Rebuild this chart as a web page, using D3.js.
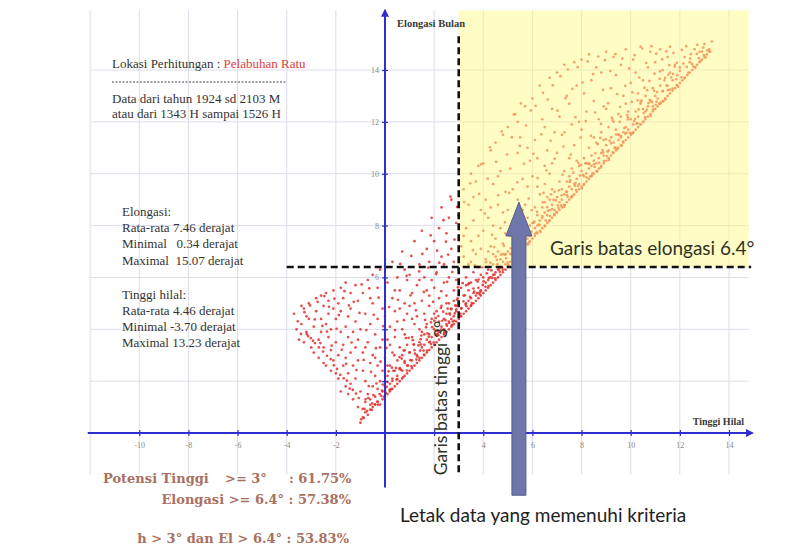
<!DOCTYPE html>
<html lang="id">
<head>
<meta charset="UTF-8">
<title>Elongasi Bulan vs Tinggi Hilal</title>
<script src="https://d3js.org/d3.v7.min.js"></script>
<style>
  body { margin: 0; background: #fff; }
  svg { display: block; }
  .pre { white-space: pre; }
</style>
</head>
<body>
<div id="chart"></div>
<script>
// tick marks and labels
const xTickMarks = [-10, -8, -6, -4, -2, 2, 4, 6, 8, 10, 12, 14];
const xTickLabels = [-10, -8, -6, -4, -2, 4, 6, 8, 10, 12, 14];
const yTickMarks = [2, 4, 6, 8, 10, 12, 14];
const yTickLabels = [6, 8, 10, 12, 14];
const gridH = [-12, -10, -8, -6, -4, -2, 0, 2, 4, 6, 8, 10, 12, 14];
const gridEl = [2, 4, 6, 8, 10, 12, 14];

// kriteria
const batasTinggi = 3;
const batasElongasi = 6.4;

// teks keterangan
const infoLokasi = ["Lokasi Perhitungan : ", "Pelabuhan Ratu"];
const infoData = ["Data dari tahun 1924 sd 2103 M", "atau dari 1343 H sampai 1526 H"];
const infoElongasi = ["Elongasi:", "Rata-rata 7.46 derajat", "Minimal   0.34 derajat", "Maximal  15.07 derajat"];
const infoTinggi = ["Tinggi hilal:", "Rata-rata 4.46 derajat", "Minimal -3.70 derajat", "Maximal 13.23 derajat"];

// [tinggi hilal, elongasi] (derajat): sebaran umum
const titikSebaran = [
  [-3.7,4.6],[-3.5,3.6],[-3.4,4.2],[-3.3,3.5],[-3.3,4.8],[-3.2,3.9],[-3.1,4.4],[-3.1,5.0],[-3.0,3.3],[-3.6,4.0],[-3.4,4.9],[-3.2,4.5],
  [-2.9,3.1],[-2.9,4.1],[-2.8,4.7],[-2.8,5.2],[-2.7,3.6],[-2.7,2.9],[-2.6,4.4],[-2.6,5.3],[-2.6,3.9],[-2.5,2.7],[-2.5,4.9],[-2.5,3.3],[-2.4,5.4],[-2.4,4.2],[-2.4,2.6],[-2.3,3.7],[-2.3,4.6],[-2.3,5.1],[-2.2,2.4],[-2.2,3.2],[-2.2,4.0],[-2.1,4.8],[-2.1,2.8],[-2.1,5.5],[-2.0,3.5],
  [-2.0,2.3],[-2.0,4.4],[-1.9,5.0],[-1.9,3.0],[-1.9,2.1],[-1.8,3.9],[-1.8,5.6],[-1.8,1.6],[-1.8,4.7],[-1.7,2.6],[-1.7,3.4],[-1.7,5.2],[-1.6,1.8],[-1.6,4.1],[-1.6,2.9],[-1.6,5.8],[-1.5,3.7],[-1.5,1.5],[-1.5,4.5],[-1.5,2.3],[-1.4,5.4],[-1.4,3.1],[-1.4,1.9],[-1.4,4.8],[-1.3,2.6],[-1.3,3.9],[-1.3,1.3],[-1.2,5.7],[-1.2,2.1],[-1.2,4.3],[-1.2,3.3],[-1.1,1.0],[-1.1,2.8],[-1.1,5.1],[-1.1,3.6],
  [-1.0,0.4],[-1.0,1.6],[-1.0,4.0],[-0.9,0.6],[-0.9,2.4],[-0.9,5.4],[-0.9,3.1],[-0.8,0.8],[-0.8,1.2],[-0.8,4.6],[-0.8,2.0],[-0.7,0.7],[-0.7,3.5],[-0.7,5.9],[-0.7,1.5],[-0.6,0.9],[-0.6,2.7],[-0.6,4.2],[-0.6,1.3],[-0.5,1.0],[-0.5,6.1],[-0.5,3.0],[-0.5,1.8],[-0.5,5.0],[-0.4,1.1],[-0.4,2.2],[-0.4,3.8],[-0.4,1.4],[-0.3,1.2],[-0.3,4.4],[-0.3,2.6],[-0.3,5.6],[-0.3,1.7],[-0.2,1.1],[-0.2,3.3],[-0.2,2.0],[-0.2,6.3],[-0.1,1.3],[-0.1,4.8],[-0.1,2.4],[-0.1,1.6],[-0.1,3.6],[-0.6,5.2],[-0.4,2.9],[-0.8,3.3],
  [0.0,1.4],[0.0,2.9],[0.0,4.5],[0.0,1.8],[0.1,1.5],[0.1,3.6],[0.1,5.8],[0.1,2.2],[0.2,1.6],[0.2,2.6],[0.2,4.1],[0.2,1.9],[0.3,1.7],[0.3,5.2],[0.3,3.1],[0.3,6.6],[0.3,2.1],[0.4,1.8],[0.4,2.4],[0.4,4.7],[0.4,3.7],[0.5,1.9],[0.5,2.8],[0.5,6.0],[0.5,2.2],[0.5,4.3],[0.6,2.0],[0.6,3.3],[0.6,5.5],[0.6,2.5],[0.7,2.1],[0.7,2.4],[0.7,4.0],[0.7,7.0],[0.7,3.0],[0.8,2.2],[0.8,3.8],[0.8,5.0],[0.8,2.7],[0.8,6.3],[0.9,2.3],[0.9,2.6],[0.9,4.6],[0.9,3.4],[0.9,5.9],[0.2,3.4],[0.4,5.5],[0.6,4.8],[0.8,3.2],[0.1,2.6],
  [1.0,2.4],[1.0,3.1],[1.0,4.9],[1.0,6.1],[1.1,2.5],[1.1,3.7],[1.1,5.4],[1.1,2.8],[1.2,2.6],[1.2,4.2],[1.2,7.4],[1.2,3.2],[1.3,2.7],[1.3,3.0],[1.3,5.7],[1.3,4.5],[1.4,2.8],[1.4,3.5],[1.4,6.5],[1.4,2.9],[1.4,4.0],[1.5,2.9],[1.5,3.3],[1.5,5.1],[1.5,7.8],[1.5,3.9],[1.6,3.0],[1.6,4.6],[1.6,3.4],[1.6,6.0],[1.7,3.1],[1.7,3.6],[1.7,5.5],[1.7,4.2],[1.7,7.1],[1.8,3.2],[1.8,3.8],[1.8,4.9],[1.8,3.5],[1.8,6.6],[1.9,3.3],[1.9,4.4],[1.9,5.9],[1.9,3.7],[1.9,8.3],[1.2,5.0],[1.4,5.9],[1.6,3.8],[1.8,5.3],[1.1,4.4],
  [2.0,3.4],[2.0,4.0],[2.0,5.6],[2.0,7.4],[2.1,3.5],[2.1,3.8],[2.1,4.7],[2.1,6.2],[2.2,3.6],[2.2,4.3],[2.2,5.2],[2.2,3.9],[2.3,3.7],[2.3,4.1],[2.3,6.8],[2.3,4.9],[2.3,8.7],[2.4,3.8],[2.4,4.4],[2.4,5.8],[2.4,4.0],[2.5,3.9],[2.5,4.6],[2.5,7.7],[2.5,5.3],[2.5,4.2],[2.6,4.0],[2.6,4.3],[2.6,6.0],[2.6,5.0],[2.7,4.1],[2.7,4.8],[2.7,7.1],[2.7,4.4],[2.7,9.0],[2.8,4.2],[2.8,4.5],[2.8,5.5],[2.8,6.6],[2.9,4.3],[2.9,4.7],[2.9,5.9],[2.9,8.1],[2.9,4.9],[2.4,6.5],[2.6,8.3],[2.2,7.9],[2.8,5.1],[2.0,4.6],[2.5,5.0],
  [3.0,4.4],[3.0,5.0],[3.0,6.3],[3.0,8.4],[3.1,4.5],[3.1,4.8],[3.1,7.2],[3.1,5.6],[3.2,4.6],[3.2,5.3],[3.2,9.4],[3.2,6.8],[3.3,4.7],[3.3,5.0],[3.3,6.0],[3.3,7.9],[3.4,4.8],[3.4,5.5],[3.4,8.8],[3.4,5.1],[3.4,6.5],[3.5,4.9],[3.5,5.2],[3.5,7.4],[3.5,10.0],[3.5,5.8],[3.6,5.0],[3.6,6.2],[3.6,5.4],[3.6,8.2],[3.7,5.1],[3.7,5.3],[3.7,6.9],[3.7,9.7],[3.7,5.9],[3.8,5.2],[3.8,5.6],[3.8,7.6],[3.8,6.4],[3.8,5.4],[3.9,5.3],[3.9,6.1],[3.9,8.6],[3.9,5.5],[3.9,7.1],[3.3,5.7],[3.5,6.6],[3.6,9.1],[3.8,10.3],[3.2,7.6],
  [4.0,5.4],[4.0,6.0],[4.0,7.8],[4.0,10.4],[4.1,5.5],[4.1,5.8],[4.1,6.7],[4.1,9.0],[4.2,5.6],[4.2,6.3],[4.2,8.3],[4.2,5.9],[4.3,5.7],[4.3,6.0],[4.3,7.2],[4.3,10.9],[4.4,5.8],[4.4,6.5],[4.4,9.6],[4.4,6.1],[4.4,8.0],[4.5,5.9],[4.5,6.2],[4.5,7.5],[4.5,11.2],[4.5,6.8],[4.6,6.0],[4.6,7.0],[4.6,6.3],[4.6,8.8],[4.7,6.1],[4.7,6.4],[4.7,7.9],[4.7,10.1],[4.7,6.7],[4.8,6.2],[4.8,6.6],[4.8,8.5],[4.8,7.3],[4.8,11.5],[4.9,6.3],[4.9,6.9],[4.9,9.3],[4.9,6.5],[4.9,7.7],[4.2,7.0],[4.4,6.9],[4.6,9.9],[4.8,6.9],[4.3,8.7],
  [5.0,6.5],[5.0,7.0],[5.0,8.6],[5.0,11.8],[5.1,6.6],[5.1,6.9],[5.1,7.6],[5.1,10.2],[5.2,6.7],[5.2,7.3],[5.2,9.4],[5.2,7.0],[5.3,6.8],[5.3,7.1],[5.3,8.1],[5.3,12.3],[5.4,6.9],[5.4,7.6],[5.4,10.8],[5.4,7.2],[5.4,9.0],[5.5,7.0],[5.5,7.4],[5.5,8.4],[5.5,11.4],[5.5,7.8],[5.6,7.1],[5.6,8.0],[5.6,7.4],[5.6,9.8],[5.7,7.2],[5.7,7.5],[5.7,8.8],[5.7,12.6],[5.7,7.9],[5.8,7.3],[5.8,7.7],[5.8,9.5],[5.8,8.3],[5.8,11.0],[5.9,7.4],[5.9,8.0],[5.9,10.5],[5.9,7.6],[5.2,8.2],[5.4,12.0],[5.6,8.6],[5.8,7.5],
  [6.0,7.5],[6.0,8.1],[6.0,9.9],[6.0,12.9],[6.1,7.6],[6.1,7.9],[6.1,8.7],[6.1,11.3],[6.2,7.7],[6.2,8.4],[6.2,10.6],[6.2,8.0],[6.3,7.8],[6.3,8.2],[6.3,9.2],[6.3,13.4],[6.4,7.9],[6.4,8.7],[6.4,12.1],[6.4,8.3],[6.5,8.0],[6.5,8.5],[6.5,9.6],[6.5,11.8],[6.5,8.9],[6.6,8.1],[6.6,9.1],[6.6,8.4],[6.6,10.9],[6.7,8.2],[6.7,8.6],[6.7,10.0],[6.7,13.7],[6.7,9.0],[6.8,8.3],[6.8,8.8],[6.8,10.4],[6.8,9.4],[6.8,12.5],[6.9,8.4],[6.9,9.3],[6.9,11.6],[6.9,8.6],[6.2,9.5],[6.5,10.3],
  [7.0,8.5],[7.0,9.1],[7.0,10.8],[7.0,13.9],[7.1,8.6],[7.1,8.9],[7.1,9.7],[7.1,12.2],[7.2,8.7],[7.2,9.4],[7.2,11.5],[7.2,9.0],[7.3,8.8],[7.3,9.2],[7.3,10.1],[7.3,14.2],[7.4,8.9],[7.4,9.7],[7.4,13.0],[7.4,9.3],[7.5,9.0],[7.5,9.5],[7.5,10.6],[7.5,12.7],[7.5,9.9],[7.6,9.1],[7.6,10.2],[7.6,9.4],[7.6,11.9],[7.7,9.2],[7.7,9.6],[7.7,11.1],[7.7,14.3],[7.8,9.3],[7.8,9.8],[7.8,10.5],[7.8,13.4],[7.9,9.4],[7.9,10.3],[7.9,12.0],[7.9,9.6],[7.3,11.6],
  [8.0,9.5],[8.0,10.1],[8.0,11.7],[8.0,14.4],[8.1,9.6],[8.1,9.9],[8.1,10.6],[8.1,13.1],[8.2,9.7],[8.2,10.4],[8.2,12.4],[8.3,9.8],[8.3,10.2],[8.3,11.0],[8.3,14.6],[8.4,9.9],[8.4,10.7],[8.4,13.6],[8.4,10.3],[8.5,10.0],[8.5,10.5],[8.5,11.4],[8.5,12.8],[8.6,10.1],[8.6,11.2],[8.6,10.4],[8.6,14.1],[8.7,10.2],[8.7,10.6],[8.7,12.1],[8.8,10.3],[8.8,10.8],[8.8,11.6],[8.8,13.9],[8.9,10.4],[8.9,11.3],[8.9,12.6],[8.9,10.7],
  [9.0,10.5],[9.0,11.1],[9.0,12.5],[9.0,14.7],[9.1,10.6],[9.1,10.9],[9.1,11.8],[9.2,10.7],[9.2,11.4],[9.2,13.3],[9.3,10.8],[9.3,11.2],[9.3,12.0],[9.3,14.5],[9.4,10.9],[9.4,11.7],[9.4,13.8],[9.5,11.0],[9.5,11.5],[9.5,12.3],[9.5,11.3],[9.6,11.1],[9.6,12.2],[9.6,11.4],[9.6,14.2],[9.7,11.2],[9.7,11.6],[9.7,13.0],[9.8,11.3],[9.8,11.8],[9.8,12.7],[9.8,14.8],[9.9,11.4],[9.9,12.4],[9.9,11.7],
  [10.0,11.5],[10.0,12.1],[10.0,13.5],[10.1,11.6],[10.1,11.9],[10.1,14.4],[10.2,11.7],[10.2,12.4],[10.3,11.8],[10.3,12.2],[10.3,13.1],[10.4,11.9],[10.4,12.7],[10.4,14.9],[10.5,12.0],[10.5,12.5],[10.5,13.6],[10.6,12.1],[10.6,13.0],[10.6,12.4],[10.7,12.2],[10.7,12.6],[10.7,14.1],[10.8,12.3],[10.8,12.8],[10.8,14.7],[10.9,12.4],[10.9,13.3],[10.9,12.6],[10.2,13.9],
  [11.0,12.5],[11.0,13.0],[11.0,14.3],[11.1,12.6],[11.1,12.9],[11.2,12.7],[11.2,13.4],[11.2,14.8],[11.3,12.8],[11.3,13.2],[11.4,12.9],[11.4,13.7],[11.5,13.0],[11.5,13.4],[11.5,14.5],[11.6,13.1],[11.6,13.9],[11.7,13.2],[11.7,13.6],[11.8,13.3],[11.8,14.2],[11.9,13.4],[11.9,13.8],[11.3,14.0],[11.6,14.9],
  [12.0,13.5],[12.0,14.1],[12.1,13.6],[12.2,13.7],[12.2,14.5],[12.3,13.8],[12.4,13.9],[12.4,14.3],[12.5,14.0],[12.6,14.1],[12.6,14.8],[12.7,14.2],[12.8,14.3],[12.8,14.7],[12.9,14.4],[13.0,14.5],[13.0,15.0],[13.1,14.6],[13.2,14.8],[13.3,15.1]
];

// titik tambahan: pita padat di tepi bawah dan isian sebaran
const titikPita = [
  [-0.97,0.53],[-0.91,0.93],[-0.86,0.58],[-0.79,1.31],[-0.73,0.85],[-0.66,1.81],[-0.60,1.09],[-0.54,0.89],[-0.47,1.46],[-0.41,1.10],[-0.35,1.91],[-0.28,1.09],[-0.22,1.50],[-0.15,1.43],[-0.09,1.87],[-0.04,1.39],
  [-1.07,1.35],[-1.18,1.52],[-1.31,1.66],[-1.44,1.71],[-1.55,2.02],[-1.68,2.11],[-1.82,2.24],[-1.95,2.47],[-2.08,2.61],[-2.21,2.85],[-2.36,2.98],[-2.52,3.14],[-2.69,3.30],[-2.85,3.47],[-3.02,3.66],[-3.18,3.81],
  [-0.52,1.14],[-0.68,1.35],[-0.31,1.21],[-0.12,1.64],[-0.83,0.93],
  [0.03,1.55],[0.10,1.97],[0.15,2.38],[0.24,1.69],[0.30,2.01],[0.38,3.00],[0.45,2.51],[0.50,2.08],[0.59,2.93],[0.65,2.44],[0.73,2.15],[0.80,2.77],[0.85,3.66],[0.94,2.60],
  [1.00,3.11],[1.08,2.57],[1.13,3.58],[1.22,3.06],[1.28,2.83],[1.36,3.38],[1.43,3.18],[1.48,3.76],[1.57,3.18],[1.63,4.36],[1.71,3.18],[1.78,3.71],[1.83,3.52],[1.92,4.08],[1.98,3.49],
  [2.06,4.44],[2.13,3.94],[2.18,3.77],[2.27,4.82],[2.33,4.33],[2.41,3.84],[2.46,4.35],[2.55,4.80],[2.61,4.25],[2.69,4.77],[2.76,4.30],[2.81,4.33],[2.90,4.77],[2.96,5.19],
  [3.04,4.49],[3.11,4.82],[3.16,5.78],[3.25,5.31],[3.31,4.89],[3.39,5.73],[3.46,5.25],[3.51,4.93],[3.60,5.57],[3.66,6.47],[3.74,5.40],[3.81,5.92],[3.86,5.35],[3.95,6.40],
  [4.01,5.85],[4.09,5.64],[4.14,6.16],[4.23,5.98],[4.29,6.57],[4.37,5.98],[4.44,7.17],[4.49,5.96],[4.58,6.51],[4.64,6.33],[4.72,6.88],[4.79,6.30],[4.84,7.22],[4.93,6.74],[4.99,6.58],
  [5.07,7.62],[5.12,7.12],[5.21,6.64],[5.27,7.16],[5.35,7.60],[5.42,7.06],[5.47,7.55],[5.56,7.10],[5.62,7.14],[5.70,7.57],[5.77,8.00],[5.82,7.27],[5.91,7.62],[5.97,8.59],
  [6.05,8.11],[6.10,7.68],[6.19,8.53],[6.25,8.04],[6.33,7.75],[6.40,8.37],[6.45,9.26],[6.54,8.20],[6.60,8.71],[6.68,8.17],[6.75,9.20],[6.80,8.64],[6.89,8.44],[6.95,8.97],
  [7.03,8.78],[7.08,9.36],[7.17,8.78],[7.23,9.96],[7.31,8.78],[7.38,9.31],[7.43,9.12],[7.52,9.68],[7.58,9.09],[7.66,10.04],[7.73,9.54],[7.78,9.37],[7.87,10.42],[7.93,9.93],
  [8.01,9.44],[8.06,9.95],[8.15,10.40],[8.21,9.85],[8.29,10.37],[8.36,9.90],[8.41,9.93],[8.50,10.37],[8.56,10.79],[8.64,10.09],[8.71,10.42],[8.76,11.38],[8.85,10.91],[8.91,10.49],[8.99,11.33],
  [9.06,10.85],[9.11,10.53],[9.20,11.17],[9.26,12.07],[9.34,11.00],[9.41,11.52],[9.46,10.95],[9.55,12.00],[9.61,11.45],[9.69,11.24],[9.74,11.76],[9.83,11.58],[9.89,12.17],[9.97,11.58],
  [10.04,12.77],[10.09,11.56],[10.18,12.11],[10.24,11.93],[10.32,12.48],[10.39,11.90],[10.44,12.82],[10.53,12.34],[10.59,12.18],[10.67,13.22],[10.72,12.72],[10.81,12.24],[10.87,12.76],[10.95,13.20],
  [11.02,12.66],[11.07,13.15],[11.16,12.70],[11.22,12.74],[11.30,13.17],[11.37,13.60],[11.42,12.87],[11.51,13.22],[11.57,14.19],[11.65,13.71],[11.70,13.28],[11.79,14.13],[11.85,13.64],[11.93,13.35],
  [12.00,13.97],[12.06,13.72],[12.14,14.25],[12.19,13.68],[12.28,14.12],[12.34,13.89],[12.42,14.44],[12.49,14.24],[12.54,14.15],[12.63,14.10],[12.69,14.62],[12.77,14.46],[12.84,14.35],[12.90,14.71],[12.98,14.57],[13.05,14.48],[13.12,14.76],[13.18,14.72],[13.24,14.70],
  [2.52,4.14],[2.63,4.61],[2.72,4.16],[2.84,4.61],[2.93,5.14],[3.07,4.60],[3.19,5.08],[3.28,4.96],[3.42,5.78],[3.53,5.01],[3.63,5.45],[3.77,5.84],[3.88,5.45],[3.98,5.71],
  [4.11,6.59],[4.21,5.67],[4.33,6.27],[4.46,6.11],[4.55,6.68],[4.67,6.22],[4.77,6.39],[4.89,6.87],[5.02,6.46],[5.14,6.91],[5.25,7.46],[5.39,6.92],[5.51,7.40],[5.61,7.29],[5.74,8.10],[5.86,7.34],[5.95,7.77],
  [6.08,8.15],[6.17,7.74],[6.29,8.02],[6.42,8.90],[6.51,7.97],[6.63,8.57],[6.72,8.37],[6.86,8.99],[6.97,8.52],[7.06,8.68],[7.19,9.17],[7.28,8.72],[7.41,9.18],[7.54,9.75],[7.62,9.15],[7.75,9.64],[7.85,9.53],[7.98,10.34],
  [8.09,9.57],[8.19,10.01],[8.32,10.39],[8.44,10.01],[8.53,10.26],[8.66,11.14],[8.78,10.24],[8.88,10.82],[9.03,10.68],[9.14,11.27],[9.27,10.82],[9.39,11.01],[9.52,11.50],[9.64,11.08],[9.77,11.54],[9.88,12.09],
  [10.02,11.55],[10.14,12.03],[10.27,11.95],[10.41,12.77],[10.52,12.00],[10.65,12.47],[10.78,12.85],[10.91,12.48],[11.05,12.78],[11.18,13.66],[11.33,12.79],[11.46,13.40],[11.59,13.24],[11.72,13.85],[11.87,13.42],
  [0.07,1.78],[0.19,1.66],[0.34,2.40],[0.47,2.06],[0.61,2.46],[0.76,3.18],[0.89,2.41],[1.03,2.81],[1.17,3.41],[1.31,2.95],[1.46,3.41],[1.59,3.02],[1.73,3.84],[1.87,3.43],[2.01,4.33],[2.14,3.82],[2.28,3.99],[2.42,3.89],
  [3.22,8.91],[3.47,9.63],[3.58,7.05],[3.83,9.22],[3.91,10.36],[4.06,8.47],[4.18,9.81],[4.27,11.02],[4.36,7.64],[4.52,10.46],[4.61,9.17],[4.75,11.63],[4.88,8.12],[4.97,10.74],
  [5.05,9.26],[5.16,11.41],[5.24,12.28],[5.38,9.67],[5.49,11.07],[5.53,12.71],[5.66,10.38],[5.74,11.86],[5.85,9.04],[5.93,12.44],[6.04,10.77],[6.13,12.62],[6.21,9.83],[6.36,11.52],
  [6.43,13.12],[6.57,10.13],[6.62,12.86],[6.74,11.27],[6.83,13.41],[6.91,10.58],[7.02,12.43],[7.14,13.76],[7.26,11.05],[7.35,12.91],[7.44,14.02],[7.56,10.74],[7.63,13.27],[7.75,12.18],
  [7.84,14.11],[7.96,11.39],[8.04,13.52],[8.17,12.03],[8.25,14.33],[8.38,11.46],[8.47,13.84],[8.55,12.36],[8.68,14.52],[8.79,11.92],[8.87,13.23],[8.95,14.38],[9.08,12.72],[9.17,13.96],
  [9.24,12.15],[9.38,14.61],[9.45,13.07],[9.57,12.58],[9.66,14.44],[9.78,13.39],[9.86,12.26],[9.94,14.06],[10.07,13.14],[10.16,14.57],[10.28,12.83],[10.35,13.71],[10.47,14.83],[10.56,13.32],
  [10.63,14.27],[10.76,13.58],[10.85,14.92],[10.97,13.86],[11.04,14.63],[11.19,13.95],[11.28,14.41],[11.45,14.72],[11.53,13.82],[11.74,14.66],[11.88,14.28],[12.08,14.78],[12.26,14.92],[12.45,14.61],[12.71,14.97],[12.95,14.86],
  [2.12,7.03],[2.38,8.21],[2.57,6.88],[2.83,7.46],[2.94,8.72],[2.66,9.12],[2.21,6.57],[1.86,7.62],[1.52,6.91],[1.07,6.83],[0.62,6.52],[2.48,7.38],
  [-3.55,4.31],[-3.42,3.82],[-3.28,4.66],[-3.13,3.74],[-3.05,4.92],[-2.93,3.56],[-2.86,4.38],[-2.74,5.06],[-2.63,3.47],[-2.55,4.13],[-2.47,5.28],[-2.36,3.91],[-2.28,4.87],[-2.17,3.37],
  [-2.06,5.18],[-1.97,4.02],[-1.88,4.55],[-1.76,3.21],[-1.65,5.47],[-1.58,2.67],[-1.47,4.92],[-1.36,3.49],[-1.27,5.06],[-1.16,2.43],[-1.04,4.63],[-0.95,5.73],[-0.87,2.82],[-0.76,3.97],
  [-0.64,5.58],[-0.57,2.36],[-0.46,4.56],[-0.37,3.27],[-0.26,5.22],[-0.18,2.75],[-0.07,4.12],[0.06,3.28],[0.17,4.86],[0.28,2.52],[0.41,3.97],[0.53,5.14],[0.68,2.87],[0.77,4.35],
  [0.88,6.06],[0.96,3.67],[1.04,5.31],[1.17,3.42],[1.26,4.73],[1.39,6.23],[1.45,3.62],[1.58,5.44],[1.67,4.08],[1.76,6.38],[1.87,4.27],[1.96,5.06],[2.08,6.13],[2.17,4.51],
  [2.29,5.47],[2.37,4.68],[2.53,5.83],[2.64,4.57],[2.74,6.21],[2.86,4.92],[2.97,5.62]
];

const W = 792, H = 553;
const svg = d3.select("#chart").append("svg")
  .attr("width", W).attr("height", H)
  .style("background", "#fff");

const x = d3.scaleLinear().domain([0, 14]).range([385, 729]);
const y = d3.scaleLinear().domain([0, 14]).range([433, 70]);

const axisBlue = "#2f2fd0";
const serif = "'Liberation Serif', 'Times New Roman', serif";
const sans = "Lato, 'Open Sans', sans-serif";

// grid
svg.append("g").selectAll("line").data(gridH).join("line")
  .attr("x1", d => x(d)).attr("x2", d => x(d))
  .attr("y1", y(-1.6)).attr("y2", y(16.3))
  .attr("stroke", "#dcdde9").attr("stroke-width", 1);
svg.append("g").selectAll("line").data(gridEl).join("line")
  .attr("x1", x(-12)).attr("x2", x(14.8))
  .attr("y1", d => y(d)).attr("y2", d => y(d))
  .attr("stroke", "#dcdde9").attr("stroke-width", 1);

// titik data
svg.append("g").selectAll("circle").data(titikSebaran.concat(titikPita)).join("circle")
  .attr("cx", d => x(d[0])).attr("cy", d => y(d[1]))
  .attr("r", 1.35)
  .attr("fill", "#e3302c")
  .attr("opacity", 0.85);

// daerah kriteria (kuning transparan di atas titik)
svg.append("rect")
  .attr("x", x(batasTinggi)).attr("y", y(16.3))
  .attr("width", x(14.8) - x(batasTinggi))
  .attr("height", y(batasElongasi) - y(16.3))
  .attr("fill", "#fff98a").attr("opacity", 0.5);

// sumbu
const defs = svg.append("defs");
defs.append("marker").attr("id", "panah")
  .attr("viewBox", "0 0 10 10").attr("refX", 8).attr("refY", 5)
  .attr("markerWidth", 4).attr("markerHeight", 4).attr("orient", "auto")
  .append("path").attr("d", "M0,0 L10,5 L0,10 Z").attr("fill", axisBlue);

svg.append("line")
  .attr("x1", x(-12.1)).attr("x2", x(14.95))
  .attr("y1", y(0)).attr("y2", y(0))
  .attr("stroke", axisBlue).attr("stroke-width", 2)
  .attr("marker-end", "url(#panah)");
svg.append("line")
  .attr("x1", x(0)).attr("x2", x(0))
  .attr("y1", y(-2.1)).attr("y2", y(16.3))
  .attr("stroke", axisBlue).attr("stroke-width", 2)
  .attr("marker-end", "url(#panah)");

const gx = svg.append("g").attr("transform", `translate(0,${y(0)})`)
  .call(d3.axisBottom(x).tickValues(xTickMarks).tickSize(3).tickPadding(6)
    .tickFormat(d => xTickLabels.includes(d) ? d : ""));
gx.select(".domain").remove();
gx.selectAll(".tick line").attr("y1", -3).attr("stroke", axisBlue).attr("stroke-width", 1.2);
gx.selectAll(".tick text").attr("fill", "#888").attr("font-size", 8).attr("font-family", serif);

const gy = svg.append("g").attr("transform", `translate(${x(0)},0)`)
  .call(d3.axisLeft(y).tickValues(yTickMarks).tickSize(3).tickPadding(3)
    .tickFormat(d => yTickLabels.includes(d) ? d : ""));
gy.select(".domain").remove();
gy.selectAll(".tick line").attr("x1", 3).attr("stroke", axisBlue).attr("stroke-width", 1.2);
gy.selectAll(".tick text").attr("fill", "#888").attr("font-size", 8).attr("font-family", serif);

// judul sumbu
svg.append("text").attr("x", x(0) + 12).attr("y", 27)
  .attr("font-family", serif).attr("font-weight", "bold").attr("font-size", 10.5)
  .attr("fill", "#3a3a3a").text("Elongasi Bulan");
svg.append("text").attr("x", 744).attr("y", 425).attr("text-anchor", "end")
  .attr("font-family", serif).attr("font-weight", "bold").attr("font-size", 10)
  .attr("fill", "#3a3a3a").text("Tinggi Hilal");

// garis batas
svg.append("line")
  .attr("x1", x(-4)).attr("x2", x(14.9))
  .attr("y1", y(batasElongasi)).attr("y2", y(batasElongasi))
  .attr("stroke", "#111").attr("stroke-width", 2.6).attr("stroke-dasharray", "7,4");
svg.append("line")
  .attr("x1", x(batasTinggi)).attr("x2", x(batasTinggi))
  .attr("y1", y(15.3)).attr("y2", y(-1.6))
  .attr("stroke", "#111").attr("stroke-width", 2.6).attr("stroke-dasharray", "7,4");

// panah penunjuk
const ax = 5.45, tip = 8.9, base = 7.6, bottom = -2.4;
const headW = 13, shaftW = 7;
const cx = x(ax);
const arrowPath = [
  [cx, y(tip)], [cx + headW, y(base)], [cx + shaftW, y(base)],
  [cx + shaftW, y(bottom)], [cx - shaftW, y(bottom)],
  [cx - shaftW, y(base)], [cx - headW, y(base)]
];
svg.append("path")
  .attr("d", d3.line()(arrowPath) + "Z")
  .attr("fill", "#6e76aa").attr("stroke", "#555c90").attr("stroke-width", 1);

// label garis batas
svg.append("text").attr("x", 550).attr("y", 255)
  .attr("font-family", sans).attr("font-size", 19).attr("fill", "#2e3326")
  .text("Garis batas elongasi 6.4°");
svg.append("text")
  .attr("transform", "translate(447,398) rotate(-90)")
  .attr("text-anchor", "middle")
  .attr("font-family", sans).attr("font-size", 17.5).attr("fill", "#2e3326")
  .text("Garis batas tinggi 3°");
svg.append("text").attr("x", 400).attr("y", 522)
  .attr("font-family", sans).attr("font-size", 19).attr("fill", "#222")
  .text("Letak data yang memenuhi kriteria");

// keterangan kiri
const ket = svg.append("g").attr("font-family", serif).attr("font-size", 13)
  .attr("fill", "#333");
const lok = ket.append("text").attr("x", 112).attr("y", 68);
lok.append("tspan").text(infoLokasi[0]);
lok.append("tspan").attr("fill", "#e2403b").text(infoLokasi[1]);
ket.append("line").attr("x1", 112).attr("x2", 287).attr("y1", 82).attr("y2", 82)
  .attr("stroke", "#444").attr("stroke-width", 1).attr("stroke-dasharray", "2,1.5");
ket.selectAll(".d").data(infoData).join("text")
  .attr("x", 112).attr("y", (d, i) => 103 + i * 15).text(d => d);
ket.selectAll(".e").data(infoElongasi).join("text")
  .attr("class", "pre").attr("xml:space", "preserve")
  .attr("x", 122).attr("y", (d, i) => 216 + i * 16.2).text(d => d);
ket.selectAll(".t").data(infoTinggi).join("text")
  .attr("x", 122).attr("y", (d, i) => 299 + i * 16).text(d => d);

// persentase
const pct = svg.append("g").attr("font-family", "'DejaVu Serif', serif").attr("font-weight", "bold")
  .attr("font-size", 13).attr("fill", "#a9705f");
const p1 = pct.append("text").attr("y", 483);
p1.append("tspan").attr("x", 103).text("Potensi Tinggi");
p1.append("tspan").attr("x", 225).text(">= 3°");
p1.append("tspan").attr("x", 289).text(": 61.75%");
pct.append("text").attr("x", 351).attr("y", 504).attr("text-anchor", "end")
  .text("Elongasi >= 6.4° : 57.38%");
pct.append("text").attr("x", 349).attr("y", 543).attr("text-anchor", "end")
  .text("h > 3° dan El > 6.4° : 53.83%");
</script>
</body>
</html>
